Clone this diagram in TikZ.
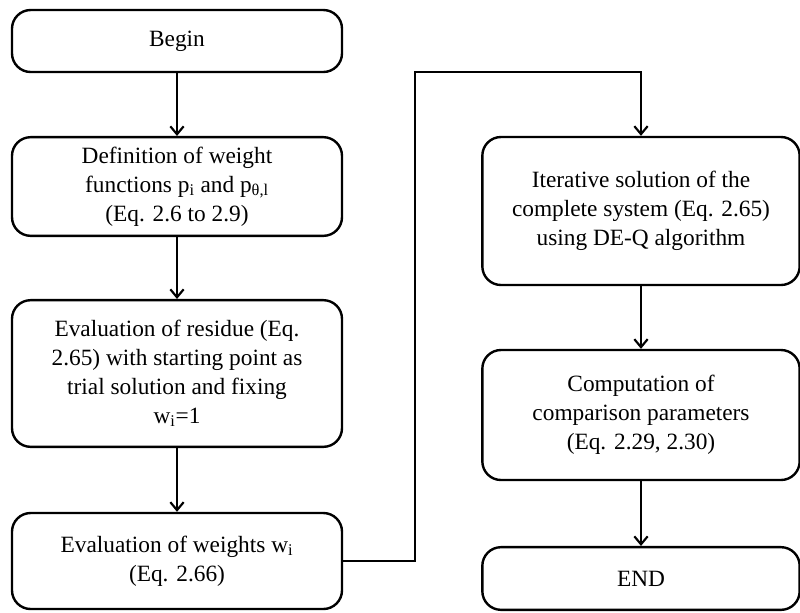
\documentclass[tikz,border=0pt]{standalone}
\usepackage{fontspec}
\setmainfont{Liberation Serif}
\usetikzlibrary{arrows.meta}
\tikzset{
    box/.style={draw, line width=1.8pt, rounded corners=14pt,
                minimum width=247.5pt, inner sep=4pt, align=center},
    flow/.style={-{Straight Barb[length=6pt, width=10pt]}, line width=1.6pt},
}

\begin{document}
\begin{tikzpicture}[x=0.75pt, y=-0.75pt,
        font=\fontsize{17.5}{21.7}\selectfont]
    \path[use as bounding box] (0,0) rectangle (800,612);

    % left column
    \node[box, minimum height=46.5pt] (begin) at (177,41) {Begin};
    \node[box, minimum height=74pt] (weightfn) at (177,186.5)
        {Definition of weight\\functions p\textsubscript{i} and p\textsubscript{θ,l}\\(Eq. 2.6 to 2.9)};
    \node[box, minimum height=110pt] (residue) at (177,373.5)
        {Evaluation of residue (Eq.\\2.65) with starting point as\\trial solution and fixing\\w\textsubscript{i}=1};
    \node[box, minimum height=72pt] (weights) at (177,561)
        {Evaluation of weights w\textsubscript{i}\\(Eq. 2.66)};

    % right column
    \node[box, minimum width=238pt, minimum height=111pt] (iter) at (641,211)
        {Iterative solution of the\\complete system (Eq. 2.65)\\using DE-Q algorithm};
    \node[box, minimum width=238pt, minimum height=97.5pt] (compute) at (641,415)
        {Computation of\\comparison parameters\\(Eq. 2.29, 2.30)};
    \node[box, minimum width=238pt, minimum height=47pt] (finish) at (641,578.5) {END};

    \draw[flow] (begin) -- (weightfn);
    \draw[flow] (weightfn) -- (residue);
    \draw[flow] (residue) -- (weights);

    \coordinate (bend) at (415,72);
    \draw[flow] (weights.east) -| (bend) -| (iter.north);

    \draw[flow] (iter) -- (compute);
    \draw[flow] (compute) -- (finish);
\end{tikzpicture}
\end{document}
